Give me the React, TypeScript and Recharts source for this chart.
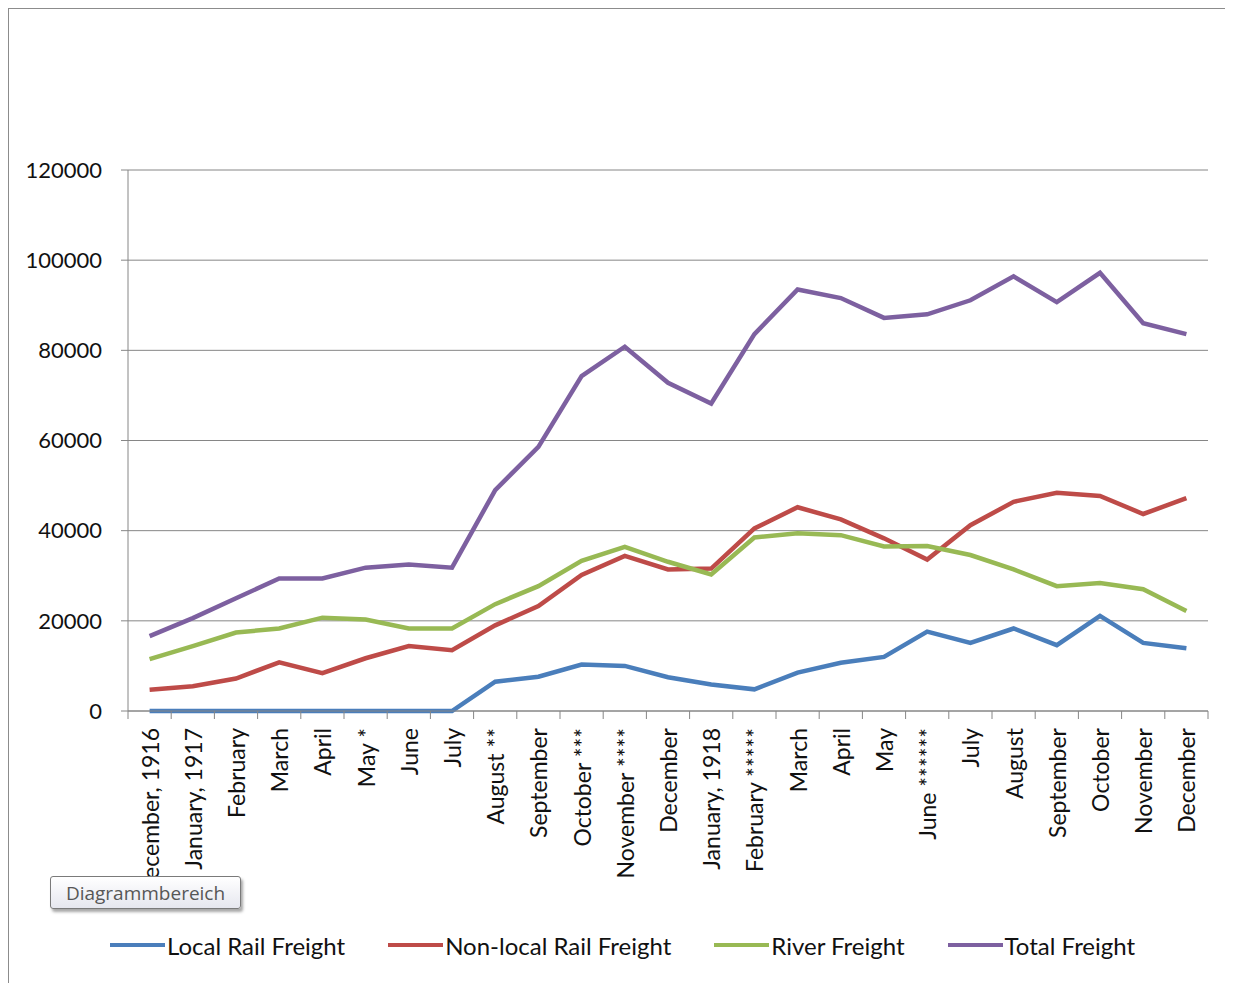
import React from "react";
import { LineChart, Line, XAxis, YAxis, CartesianGrid, Legend } from "recharts";

const months = [
  "December, 1916",
  "January, 1917",
  "February",
  "March",
  "April",
  "May *",
  "June",
  "July",
  "August **",
  "September",
  "October ***",
  "November ****",
  "December",
  "January, 1918",
  "February *****",
  "March",
  "April",
  "May",
  "June ******",
  "July",
  "August",
  "September",
  "October",
  "November",
  "December",
];

const localRail = [
  0, 0, 0, 0, 0, 0, 0, 0, 6500, 7600, 10300, 10000, 7500, 5900, 4800, 8500,
  10700, 12000, 17600, 15100, 18300, 14600, 21100, 15100, 13900,
];
const nonLocalRail = [
  4700, 5500, 7200, 10800, 8400, 11700, 14400, 13500, 19000, 23300, 30200,
  34400, 31400, 31600, 40500, 45200, 42500, 38300, 33600, 41200, 46400, 48400,
  47700, 43700, 47200,
];
const riverFreight = [
  11500, 14400, 17400, 18300, 20700, 20300, 18300, 18300, 23700, 27700, 33300,
  36400, 33100, 30300, 38500, 39400, 39000, 36500, 36600, 34600, 31400, 27700,
  28400, 27000, 22200,
];
const totalFreight = [
  16600, 20600, 25000, 29400, 29400, 31800, 32500, 31800, 49000, 58600, 74300,
  80800, 72800, 68200, 83600, 93500, 91600, 87200, 88000, 91100, 96400, 90700,
  97200, 86000, 83600,
];

const yTicks = [0, 20000, 40000, 60000, 80000, 100000, 120000];

const series = [
  { key: "local", name: "Local Rail Freight", color: "#4A7EBB", values: localRail },
  { key: "nonlocal", name: "Non-local Rail Freight", color: "#BE4B48", values: nonLocalRail },
  { key: "river", name: "River Freight", color: "#98B954", values: riverFreight },
  { key: "total", name: "Total Freight", color: "#7D60A0", values: totalFreight },
];

const data = months.map((m, i) => {
  const row: any = { month: m, idx: i };
  series.forEach((s) => {
    row[s.key] = s.values[i];
  });
  return row;
});

const FONT = "Lato, 'Open Sans', sans-serif";
const AXIS = "#868686";
// half of one category band: plot width 1080 / 25 categories / 2
const HALF_BAND = 21.6;

function MonthTick(props: any) {
  const { x, y, payload, index } = props;
  const ly = y + 17;
  return (
    <g>
      <line x1={x - HALF_BAND} x2={x - HALF_BAND} y1={y} y2={y + 8} stroke={AXIS} />
      {index === months.length - 1 && (
        <line x1={x + HALF_BAND} x2={x + HALF_BAND} y1={y} y2={y + 8} stroke={AXIS} />
      )}
      <text
        x={x}
        y={ly}
        transform={`rotate(-90 ${x} ${ly})`}
        textAnchor="end"
        dominantBaseline="central"
        fontFamily={FONT}
        fontSize={23}
        fill="#111"
      >
        {payload.value}
      </text>
    </g>
  );
}

function FreightLegend() {
  return (
    <div
      style={{
        display: "flex",
        alignItems: "center",
        height: 30,
        paddingLeft: 101,
        gap: 43,
        fontFamily: FONT,
        fontSize: 24,
        color: "#111",
      }}
    >
      {series.map((s) => (
        <div key={s.key} style={{ display: "flex", alignItems: "center" }}>
          <span style={{ display: "inline-block", width: 55, height: 4, background: s.color }} />
          <span style={{ marginLeft: 2, whiteSpace: "nowrap" }}>{s.name}</span>
        </div>
      ))}
    </div>
  );
}

export default function App() {
  return (
    <div
      style={{
        position: "relative",
        width: 1225,
        height: 975,
        boxSizing: "border-box",
        borderLeft: "1px solid #8c8c8c",
        borderTop: "1px solid #8c8c8c",
        background: "#fff",
      }}
    >
      <style>{`html,body{overflow:hidden}`}</style>
      <LineChart
        width={1224}
        height={974}
        data={data}
        margin={{ top: 161, right: 25, bottom: 42, left: 0 }}
      >
        <CartesianGrid vertical={false} stroke={AXIS} strokeWidth={1} />
        <XAxis
          dataKey="month"
          interval={0}
          height={200}
          padding={{ left: HALF_BAND, right: HALF_BAND }}
          tickLine={false}
          tickSize={0}
          tickMargin={0}
          axisLine={{ stroke: AXIS }}
          tick={<MonthTick />}
        />
        <YAxis
          width={119}
          domain={[0, 120000]}
          ticks={yTicks}
          interval={0}
          tickSize={7}
          tickMargin={19}
          axisLine={{ stroke: AXIS }}
          tickLine={{ stroke: AXIS }}
          tick={{ fontFamily: FONT, fontSize: 22, fill: "#111" }}
        />
        <Legend
          verticalAlign="bottom"
          content={() => <FreightLegend />}
          wrapperStyle={{ left: 0, top: 921, bottom: "auto", width: 1224 }}
        />
        {series.map((s) => (
          <Line
            key={s.key}
            type="linear"
            dataKey={s.key}
            name={s.name}
            stroke={s.color}
            strokeWidth={4.5}
            dot={false}
            activeDot={false}
            isAnimationActive={false}
          />
        ))}
      </LineChart>
      <div
        style={{
          position: "absolute",
          left: 41,
          top: 867,
          width: 191,
          height: 33,
          boxSizing: "border-box",
          border: "1px solid #7a7a7a",
          borderRadius: 3,
          background: "linear-gradient(#ffffff, #e6e7ef)",
          boxShadow: "2px 3px 3px rgba(0,0,0,0.35)",
          fontFamily: "'Open Sans', sans-serif",
          fontSize: 19,
          color: "#575757",
          display: "flex",
          alignItems: "center",
          justifyContent: "center",
          zIndex: 2,
        }}
      >
        Diagrammbereich
      </div>
    </div>
  );
}
